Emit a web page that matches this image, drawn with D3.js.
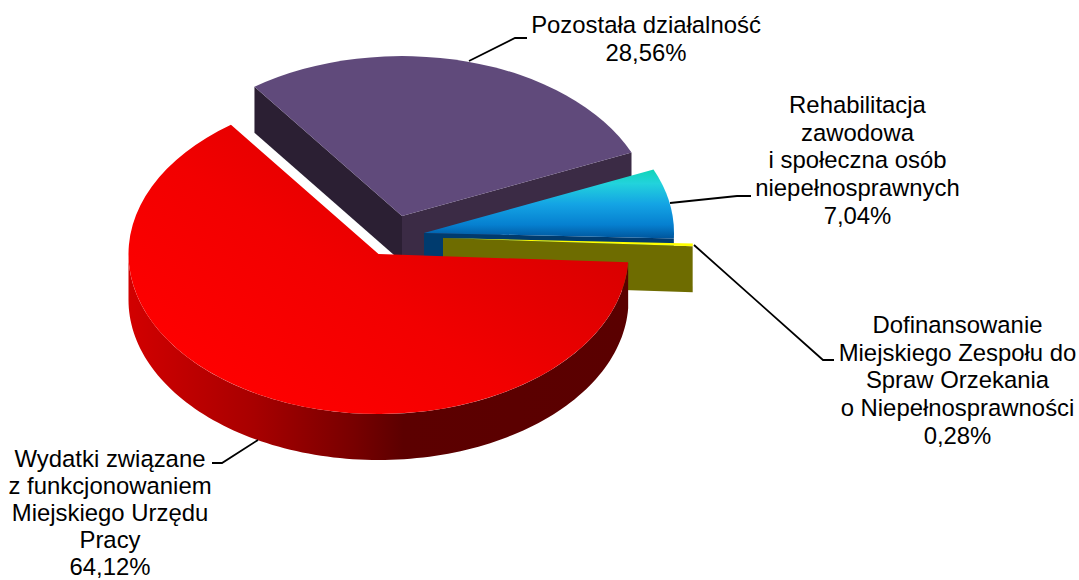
<!DOCTYPE html>
<html>
<head>
<meta charset="utf-8">
<script src="https://cdn.jsdelivr.net/npm/d3@7"></script>
<style>
  html, body { margin: 0; padding: 0; background: #fff; overflow: hidden; }
  svg { display: block; }
  text { font-family: "Liberation Sans", Arial, sans-serif; font-size: 23.9px; fill: #000; }
</style>
</head>
<body>
<script>
var categories = ['Wydatki', 'Pozostala', 'Rehabilitacja', 'Dofinansowanie'];
var shares = [64.12, 28.56, 7.04, 0.28];
var labels = [
  ['Wydatki związane', 'z funkcjonowaniem', 'Miejskiego Urzędu', 'Pracy', '64,12%'],
  ['Pozostała działalność', '28,56%'],
  ['Rehabilitacja', 'zawodowa', 'i społeczna osób', 'niepełnosprawnych', '7,04%'],
  ['Dofinansowanie', 'Miejskiego Zespołu do', 'Spraw Orzekania', 'o Niepełnosprawności', '0,28%']
];

var width = 1079, height = 580;
var rx = 250, tilt = 0.64, depth = 46;
var startAngle = 93 * Math.PI / 180;

// where each exploded slice has its apex
var apex = {
  Wydatki: [378.5, 254],
  Pozostala: [402, 216],
  Rehabilitacja: [424, 233],
  Dofinansowanie: [443, 238]
};
var sliceStyle = {
  Wydatki: { top: 'url(#redTop)', rim: 'url(#redRim)', start: '#7a0000', end: '#7a0000' },
  Pozostala: { top: '#604a7b', rim: '#3b2b45', start: '#2b1f33', end: '#3b2b45' },
  Rehabilitacja: { top: 'url(#blueTop)', rim: '#003b6e', start: '#003b6e', end: '#003b6e' },
  Dofinansowanie: { top: '#ffff00', rim: '#6e6c00', start: '#6e6c00', end: '#6e6c00' }
};
// leader lines, label block centre, first baseline and line spacing
var labelPos = [
  { x: 110, y: 467, dy: 27, line: [[258, 440], [222, 463], [212, 463]] },
  { x: 646, y: 33, dy: 27.7, line: [[469, 61], [515, 38], [527, 38]] },
  { x: 857.5, y: 113, dy: 27.7, line: [[670, 203], [737, 196], [751, 196]] },
  { x: 957.5, y: 333, dy: 27.7, line: [[694, 245], [823, 360], [834, 360]] }
];

var svg = d3.select('body').append('svg')
  .attr('width', width).attr('height', height);

var defs = svg.append('defs');

function gradient(id, attrs, stops) {
  var g = defs.append('linearGradient').attr('id', id);
  Object.keys(attrs).forEach(function (k) { g.attr(k, attrs[k]); });
  stops.forEach(function (s) {
    g.append('stop').attr('offset', s[0]).attr('stop-color', s[1]);
  });
}

gradient('redTop', { x1: 0.25, y1: 1, x2: 1, y2: 0.35 },
  [[0, '#ff0000'], [0.45, '#f20000'], [1, '#d40000']]);
gradient('blueTop', { x1: 0, y1: 0, x2: 0, y2: 1 },
  [[0, '#10d4b8'], [0.2, '#22d3dc'], [0.5, '#14a4e4'], [0.8, '#0680d0'], [1, '#00559c']]);
gradient('redRim', { x1: 0, y1: 0, x2: 1, y2: 0 },
  [[0, '#d20000'], [0.25, '#a80000'], [0.45, '#780000'], [0.55, '#5c0000'], [1, '#5a0000']]);

var pie = d3.pie().sort(null).value(function (d) { return d; })
  .startAngle(startAngle).endAngle(startAngle + 2 * Math.PI);
var arcs = pie(shares);

var arc = d3.arc().innerRadius(0).outerRadius(rx);

// rim point of a slice at angle a, clockwise from the top of the ellipse
function rimX(c, a) { return c[0] + rx * Math.sin(a); }
function rimY(c, a) { return c[1] - rx * tilt * Math.cos(a); }

var wall = d3.area()
  .x(function (d) { return d[0]; })
  .y0(function (d) { return d[1]; })
  .y1(function (d) { return d[1] + depth; });

function cutWall(c, a) {
  var pts = [c, [rimX(c, a), rimY(c, a)]];
  pts.sort(function (p, q) { return p[0] - q[0]; });
  return wall(pts);
}

// back slices first, red goes on top of everything
var order = [1, 2, 3, 0];

var slices = svg.selectAll('g.slice').data(order).enter().append('g')
  .attr('class', 'slice');

slices.each(function (i) {
  var g = d3.select(this);
  var a = arcs[i];
  var c = apex[categories[i]];
  var st = sliceStyle[categories[i]];

  // cut walls, only the ones that face the viewer
  if (Math.sin(a.startAngle) < 0) {
    g.append('path').attr('fill', st.start).attr('d', cutWall(c, a.startAngle));
  }
  if (Math.sin(a.endAngle) > 0) {
    g.append('path').attr('fill', st.end).attr('d', cutWall(c, a.endAngle));
  }

  // outer wall, front half of the ellipse only
  var from = Math.max(a.startAngle, Math.PI / 2);
  var to = Math.min(a.endAngle, 3 * Math.PI / 2);
  if (to > from) {
    var pts = d3.range(0, 121).map(function (k) {
      var t = from + (to - from) * k / 120;
      return [rimX(c, t), rimY(c, t)];
    }).sort(function (p, q) { return p[0] - q[0]; });
    g.append('path').attr('fill', st.rim).attr('d', wall(pts));
  }

  g.append('path')
    .attr('transform', 'translate(' + c[0] + ',' + c[1] + ') scale(1,' + tilt + ')')
    .attr('fill', st.top)
    .attr('d', arc(a));
});

// leader lines
var leader = d3.line();
svg.selectAll('path.leader').data(labelPos).enter().append('path')
  .attr('class', 'leader')
  .attr('fill', 'none')
  .attr('stroke', '#000')
  .attr('stroke-width', 1.8)
  .attr('d', function (d) { return leader(d.line); });

// labels
var blocks = svg.selectAll('text.lab').data(labels).enter().append('text')
  .attr('class', 'lab')
  .attr('text-anchor', 'middle')
  .attr('x', function (d, i) { return labelPos[i].x; })
  .attr('y', function (d, i) { return labelPos[i].y; });

blocks.selectAll('tspan').data(function (d, i) {
  return d.map(function (t) { return { t: t, p: labelPos[i] }; });
}).enter().append('tspan')
  .attr('x', function (d) { return d.p.x; })
  .attr('dy', function (d, i) { return i ? d.p.dy : 0; })
  .text(function (d) { return d.t; });
</script>
</body>
</html>
